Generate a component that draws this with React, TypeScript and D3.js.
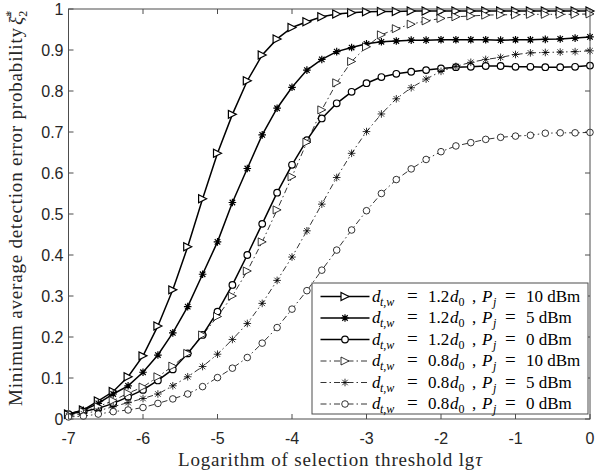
import * as d3 from 'd3'

// log threshold grid (x) and the six curves
const lgTau = [
  -7.0, -6.8, -6.6, -6.4, -6.2, -6.0, -5.8, -5.6, -5.4, -5.2, -5.0, -4.8, -4.6, -4.4, -4.2, -4.0, -3.8, -3.6,
  -3.4, -3.2, -3.0, -2.8, -2.6, -2.4, -2.2, -2.0, -1.8, -1.6, -1.4, -1.2, -1.0, -0.8, -0.6, -0.4, -0.2, 0.0,
]

const d12p10 = [
  0.012, 0.022, 0.044, 0.067, 0.103, 0.154, 0.227, 0.315, 0.42, 0.537, 0.648, 0.743, 0.825, 0.888, 0.927, 0.955,
  0.969, 0.981, 0.988, 0.991, 0.993, 0.994, 0.994, 0.995, 0.995, 0.995, 0.995, 0.995, 0.995, 0.995, 0.995, 0.995,
  0.995, 0.995, 0.995, 0.995,
]
const d12p5 = [
  0.012, 0.021, 0.038, 0.061, 0.081, 0.114, 0.156, 0.21, 0.274, 0.353, 0.432, 0.528, 0.611, 0.693, 0.758, 0.809,
  0.851, 0.877, 0.896, 0.906, 0.915, 0.92, 0.922, 0.924, 0.924, 0.925, 0.925, 0.925, 0.925, 0.924, 0.925, 0.925,
  0.926, 0.927, 0.929, 0.932,
]
const d12p0 = [
  0.012, 0.018, 0.026, 0.038, 0.054, 0.071, 0.094, 0.121, 0.16, 0.205, 0.262, 0.327, 0.4, 0.476, 0.552, 0.62,
  0.68, 0.733, 0.77, 0.798, 0.819, 0.834, 0.842, 0.847, 0.851, 0.855, 0.858, 0.859, 0.861, 0.861, 0.859, 0.859,
  0.858, 0.858, 0.859, 0.862,
]
const d08p10 = [
  0.01, 0.018, 0.03, 0.045, 0.063, 0.078, 0.103, 0.129, 0.16, 0.205, 0.25, 0.3, 0.361, 0.432, 0.51, 0.591,
  0.675, 0.754, 0.82, 0.872, 0.908, 0.937, 0.952, 0.963, 0.971, 0.977, 0.981, 0.983, 0.985, 0.986, 0.986, 0.987,
  0.987, 0.987, 0.987, 0.988,
]
const d08p5 = [
  0.008, 0.013, 0.02, 0.03, 0.04, 0.05, 0.061, 0.081, 0.103, 0.128, 0.158, 0.194, 0.233, 0.282, 0.338, 0.395,
  0.459, 0.524, 0.589, 0.648, 0.701, 0.744, 0.781, 0.808, 0.829, 0.848, 0.86, 0.87, 0.877, 0.882, 0.889, 0.893,
  0.894, 0.895, 0.896, 0.898,
]
const d08p0 = [
  0.005, 0.007, 0.012, 0.018, 0.022, 0.028, 0.038, 0.049, 0.061, 0.079, 0.101, 0.124, 0.15, 0.185, 0.223, 0.268,
  0.313, 0.363, 0.412, 0.461, 0.508, 0.55, 0.584, 0.61, 0.633, 0.652, 0.666, 0.674, 0.682, 0.687, 0.69, 0.692,
  0.697, 0.698, 0.698, 0.699,
]

const seriesValues = [d12p10, d12p5, d12p0, d08p10, d08p5, d08p0]
const distances = ['1.2', '1.2', '1.2', '0.8', '0.8', '0.8']
const powers = ['10', '5', '0', '10', '5', '0']
const markers = ['tri', 'star', 'circle', 'tri', 'star', 'circle']

const xTicks = [-7, -6, -5, -4, -3, -2, -1, 0]
const yTicks = [0, 0.1, 0.2, 0.3, 0.4, 0.5, 0.6, 0.7, 0.8, 0.9, 1]

const W = 606
const H = 474
const margin = { top: 9, right: 16, bottom: 55, left: 68.5 }
const axisColor = '#4d4d4d'
const tickFont = '"Liberation Sans", Arial, sans-serif'
const serif = '"Liberation Serif", "DejaVu Serif", serif'

function Marker({ kind, x, y, sw }: { kind: string; x: number; y: number; sw: number }) {
  if (kind === 'tri') {
    const s = 4
    return (
      <path
        d={`M${x + s},${y} L${x - s},${y - s} L${x - s},${y + s} Z`}
        fill="white"
        stroke="black"
        strokeWidth={sw}
      />
    )
  }
  if (kind === 'circle') {
    return <circle cx={x} cy={y} r={3.3} fill="white" stroke="black" strokeWidth={sw} />
  }
  const s = 3.8
  const d = s * 0.72
  return (
    <path
      d={`M${x - s},${y} L${x + s},${y} M${x},${y - s} L${x},${y + s} M${x - d},${y - d} L${x + d},${y + d} M${x - d},${y + d} L${x + d},${y - d}`}
      stroke="black"
      strokeWidth={sw}
      fill="none"
    />
  )
}

// LaTeX-like label, pieces placed at measured offsets
function LegendLabel({ x, y, dist, power }: { x: number; y: number; dist: string; power: string }) {
  const sub = 12
  const sy = y + 4
  return (
    <text fontFamily={serif} fontSize={17} fill="black">
      <tspan x={x} y={y} fontStyle="italic">d</tspan>
      <tspan x={x + 8} y={sy} fontStyle="italic" fontSize={sub}>t,w</tspan>
      <tspan x={x + 35} y={y} fontSize={19}>=</tspan>
      <tspan x={x + 56} y={y}>{dist}</tspan>
      <tspan x={x + 78} y={y} fontStyle="italic">d</tspan>
      <tspan x={x + 86.5} y={sy} fontSize={sub}>0</tspan>
      <tspan x={x + 100} y={y}>,</tspan>
      <tspan x={x + 110} y={y} fontStyle="italic">P</tspan>
      <tspan x={x + 121} y={sy} fontStyle="italic" fontSize={sub}>j</tspan>
      <tspan x={x + 133} y={y} fontSize={19}>=</tspan>
      <tspan x={x + 154} y={y}>{`${power} dBm`}</tspan>
    </text>
  )
}

export default function App() {
  const x = d3.scaleLinear().domain([-7, 0]).range([margin.left, W - margin.right])
  const y = d3.scaleLinear().domain([0, 1]).range([H - margin.bottom, margin.top])
  const [x0, x1] = x.range()
  const [y0, y1] = y.range()

  const line = d3
    .line<number>()
    .x((_, i) => x(lgTau[i]))
    .y((v) => y(v))

  // legend box
  const lg = { left: 312, top: 283, right: 588, bottom: 414, row: 21.5 }

  return (
    <svg
      width={W}
      height={H}
      style={{ position: 'absolute', left: 0, top: 0, background: 'white' }}
    >
      <rect x={0} y={0} width={W} height={H} fill="white" />

      {/* ticks inside the box */}
      {xTicks.map((t) => (
        <g key={'xt' + t}>
          <line x1={x(t)} x2={x(t)} y1={y0} y2={y0 - 5} stroke={axisColor} />
          <line x1={x(t)} x2={x(t)} y1={y1} y2={y1 + 5} stroke={axisColor} />
          <text
            x={x(t)}
            y={y0 + 25}
            textAnchor="middle"
            fontFamily={tickFont}
            fontSize={16}
            fill="#262626"
          >
            {t}
          </text>
        </g>
      ))}
      {yTicks.map((t) => (
        <g key={'yt' + t}>
          <line x1={x0} x2={x0 + 5} y1={y(t)} y2={y(t)} stroke={axisColor} />
          <line x1={x1} x2={x1 - 5} y1={y(t)} y2={y(t)} stroke={axisColor} />
          <text
            x={x0 - 5}
            y={y(t) + 5.5}
            textAnchor="end"
            fontFamily={tickFont}
            fontSize={16}
            fill="#262626"
          >
            {t}
          </text>
        </g>
      ))}

      {/* curves */}
      {seriesValues.map((vals, si) => {
        const solid = si < 3
        return (
          <g key={'s' + si}>
            <path
              d={line(vals) || ''}
              fill="none"
              stroke="black"
              strokeWidth={solid ? 1.5 : 0.8}
              strokeDasharray={solid ? undefined : '6,3,1.5,3'}
            />
            {vals.map((v, i) => (
              <Marker key={i} kind={markers[si]} x={x(lgTau[i])} y={y(v)} sw={solid ? 1.2 : 0.8} />
            ))}
          </g>
        )
      })}

      {/* axes box */}
      <rect x={x0} y={y1} width={x1 - x0} height={y0 - y1} fill="none" stroke={axisColor} strokeWidth={1} />

      {/* legend */}
      <rect
        x={lg.left}
        y={lg.top}
        width={lg.right - lg.left}
        height={lg.bottom - lg.top}
        fill="white"
        stroke={axisColor}
        strokeWidth={1}
      />
      {seriesValues.map((_, si) => {
        const solid = si < 3
        const cy = lg.top + 13.5 + si * lg.row
        return (
          <g key={'lg' + si}>
            <line
              x1={320.5}
              x2={369.5}
              y1={cy}
              y2={cy}
              stroke="black"
              strokeWidth={solid ? 1.5 : 0.8}
              strokeDasharray={solid ? undefined : '6,3,1.5,3'}
            />
            <Marker kind={markers[si]} x={345} y={cy} sw={solid ? 1.2 : 0.8} />
            <LegendLabel x={372} y={cy + 5} dist={distances[si]} power={powers[si]} />
          </g>
        )
      })}

      {/* axis titles */}
      <text x={178} y={466} fontFamily={serif} fontSize={19} fill="#262626" textLength={304} lengthAdjust="spacing">
        Logarithm of selection threshold lg<tspan fontStyle="italic">τ</tspan>
      </text>
      <text transform="translate(22,406) rotate(-90)" fontFamily={serif} fontSize={19} fill="#262626">
        <tspan textLength={378} lengthAdjust="spacing">
          Minimum average detection error probability
        </tspan>
        <tspan x={381} fontStyle="italic">ξ̄</tspan>
        <tspan fontSize={12} dy={-8}>
          *
        </tspan>
        <tspan fontSize={12} dx={-6} dy={13}>
          2
        </tspan>
      </text>
    </svg>
  )
}
